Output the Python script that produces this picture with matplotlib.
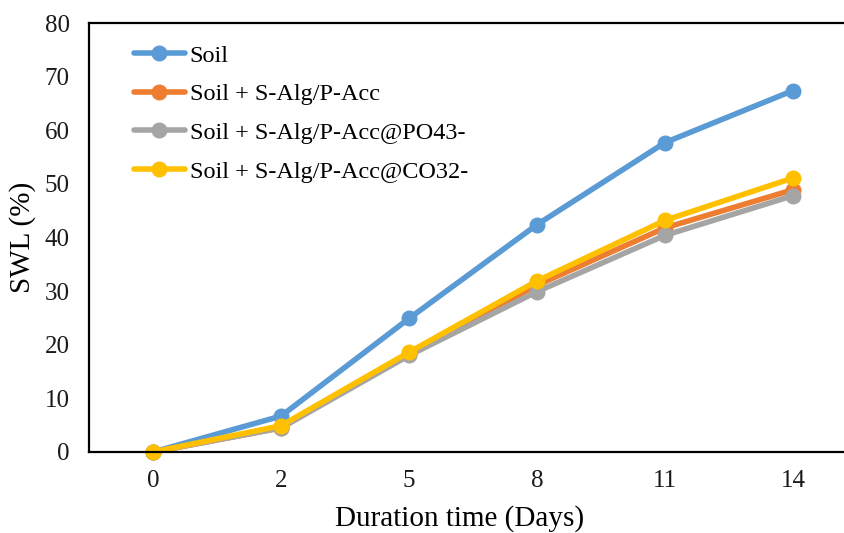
import matplotlib
matplotlib.use("Agg")
import matplotlib.pyplot as plt

days = ["0", "2", "5", "8", "11", "14"]
soil = [0, 6.7, 24.9, 42.4, 57.7, 67.4]
soil_alg = [0, 4.5, 18.3, 31.1, 41.8, 48.9]
soil_alg_po4 = [0, 4.5, 18.0, 29.9, 40.4, 47.8]
soil_alg_co3 = [0, 4.9, 18.6, 31.9, 43.2, 51.1]

series = [
    ("Soil", soil, "#5B9BD5"),
    ("Soil + S-Alg/P-Acc", soil_alg, "#ED7D31"),
    ("Soil + S-Alg/P-Acc@PO43-", soil_alg_po4, "#A5A5A5"),
    ("Soil + S-Alg/P-Acc@CO32-", soil_alg_co3, "#FFC000"),
]

plt.rcParams["font.family"] = ["Liberation Serif", "DejaVu Serif"]

fig = plt.figure(figsize=(8.45, 5.33), dpi=100)
ax = fig.add_axes([89 / 845, 1 - 452 / 533, 768 / 845, 429 / 533])

x = list(range(len(days)))
for label, vals, color in series:
    ax.plot(x, vals, color=color, lw=4, marker="o", ms=10.5,
            solid_capstyle="round", label=label, clip_on=False)

ax.set_xlim(-0.5, len(days) - 0.5)
ax.set_ylim(0, 80)
ax.set_yticks(range(0, 81, 10))
ax.set_xticks(x)
ax.set_xticklabels(days)
ax.tick_params(length=0, labelsize=18, colors="#1a1a1a")
ax.tick_params(axis="x", pad=13)
ax.tick_params(axis="y", pad=14)
for s in ax.spines.values():
    s.set_linewidth(1.6)
    s.set_color("black")

ax.set_xlabel("Duration time (Days)", fontsize=21)
ax.xaxis.set_label_coords((460 - 89) / 768, -0.124)
ax.set_ylabel("SWL (%)", fontsize=21, labelpad=6)

ax.legend(loc="upper left", bbox_to_anchor=(0.03, 1.0), frameon=False,
          fontsize=17.5, handlelength=2.1, handletextpad=0.2,
          labelspacing=0.68)

fig.savefig("out.png", dpi=100)
